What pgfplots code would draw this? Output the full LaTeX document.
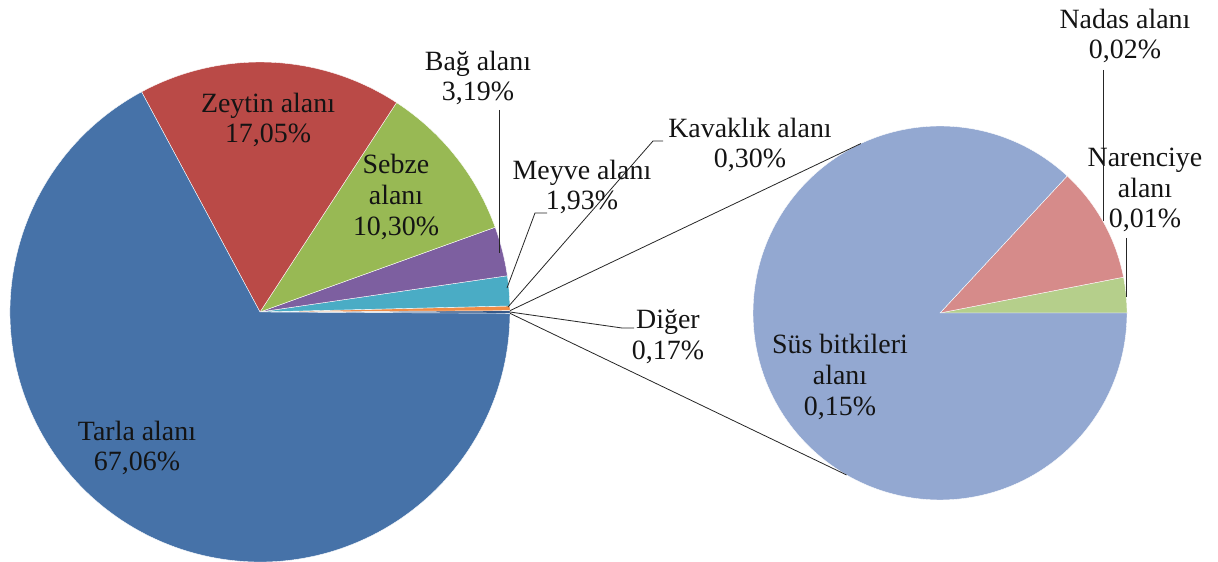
\documentclass[border=0pt]{standalone}
\usepackage{fontspec}
\setmainfont{Liberation Serif}
\newfontfamily\labfont{Liberation Serif}
\usepackage{pgfplots}
\usepackage{pgfplotstable}
\usetikzlibrary{calc}
\pgfplotsset{compat=1.18}

\definecolor{m0}{HTML}{35598A}% Diger
\definecolor{m1}{HTML}{F08C46}% Kavaklik
\definecolor{m2}{HTML}{4AACC5}% Meyve
\definecolor{m3}{HTML}{7D5FA0}% Bag
\definecolor{m4}{HTML}{98B954}% Sebze
\definecolor{m5}{HTML}{BA4A47}% Zeytin
\definecolor{m6}{HTML}{4672A8}% Tarla
\definecolor{s0}{HTML}{B5CF8B}% Narenciye
\definecolor{s1}{HTML}{D68B8A}% Nadas
\definecolor{s2}{HTML}{93A8D1}% Sus bitkileri
\definecolor{txt}{HTML}{141414}

% main pie, counter-clockwise from the "Diger" slice centred at 0 degrees
\pgfplotstableread{
name value
Diger 0.17
Kavaklik 0.30
Meyve 1.93
Bag 3.19
Sebze 10.30
Zeytin 17.05
Tarla 67.06
}\maintable
% second pie (breakdown of Diger), counter-clockwise from 0 degrees
\pgfplotstableread{
name value
Narenciye 0.0053
Nadas 0.0173
Sus 0.1500
}\subtable

\begin{document}
\begin{tikzpicture}
% angles of the main pie
\pgfplotstablegetelem{0}{value}\of\maintable
\pgfmathsetmacro\cur{-\pgfplotsretval*1.8}
\pgfplotsforeachungrouped \i in {0,...,6}{%
  \pgfplotstablegetelem{\i}{value}\of\maintable
  \pgfmathsetmacro\nxt{\cur+\pgfplotsretval*3.6}%
  \expandafter\xdef\csname ms\i\endcsname{\cur}%
  \expandafter\xdef\csname me\i\endcsname{\nxt}%
  \xdef\cur{\nxt}%
}
% angles of the second pie
\pgfmathsetmacro\subtot{0}
\pgfplotsforeachungrouped \i in {0,...,2}{%
  \pgfplotstablegetelem{\i}{value}\of\subtable
  \pgfmathsetmacro\subtot{\subtot+\pgfplotsretval}%
  \xdef\subtot{\subtot}%
}
\xdef\cur{0}
\pgfplotsforeachungrouped \i in {0,...,2}{%
  \pgfplotstablegetelem{\i}{value}\of\subtable
  \pgfmathsetmacro\nxt{\cur+\pgfplotsretval/\subtot*360}%
  \expandafter\xdef\csname ss\i\endcsname{\cur}%
  \expandafter\xdef\csname se\i\endcsname{\nxt}%
  \xdef\cur{\nxt}%
}
\begin{axis}[
  x=1bp, y=1bp, xmin=0, xmax=1218, ymin=0, ymax=562,
  hide axis, clip=false, scale only axis,
]
\coordinate (LL) at (axis cs:0,0);
\coordinate (UR) at (axis cs:1218,562);
% main pie
\pgfplotsinvokeforeach{0,...,6}{%
  \fill[fill=m#1, draw=white, line width=0.4bp] (axis cs:260,250) -- ++(\csname ms#1\endcsname:250bp)
    arc[start angle=\csname ms#1\endcsname, end angle=\csname me#1\endcsname, radius=250bp] -- cycle;
}
% second pie
\pgfplotsinvokeforeach{0,...,2}{%
  \fill[fill=s#1, draw=white, line width=0.4bp] (axis cs:940,249) -- ++(\csname ss#1\endcsname:187bp)
    arc[start angle=\csname ss#1\endcsname, end angle=\csname se#1\endcsname, radius=187bp] -- cycle;
}
% connector lines
\draw[line width=0.8bp, black!85] (axis cs:260,250) ++(\csname me0\endcsname:250bp) -- ($(axis cs:940,249)+(115:187bp)$);
\draw[line width=0.8bp, black!85] (axis cs:260,250) ++(\csname ms0\endcsname:250bp) -- ($(axis cs:940,249)+(240:187bp)$);
% leader lines
\draw[line width=0.8bp, black!85] (axis cs:499,452) -- (axis cs:499,309);
\draw[line width=0.8bp, black!85] (axis cs:507,274) -- (axis cs:535,349) -- (axis cs:547,349);
\draw[line width=0.8bp, black!85] (axis cs:508,255) -- (axis cs:653,421) -- (axis cs:663,421);
\draw[line width=0.8bp, black!85] (axis cs:510,250) -- (axis cs:622,234) -- (axis cs:634,234);
\draw[line width=0.8bp, black!85] (axis cs:1103,492) -- (axis cs:1103,341);
\draw[line width=0.8bp, black!85] (axis cs:1126,324) -- (axis cs:1126,265);
% labels
\tikzset{lab/.style={align=center, text=txt, inner sep=0pt, font=\labfont\fontsize{28}{31}\selectfont}}
\node[lab] at (axis cs:137,114) {Tarla alanı\\67,06\%};
\node[lab] at (axis cs:268,442) {Zeytin alanı\\17,05\%};
\node[lab] at (axis cs:396,365) {Sebze\\alanı\\10,30\%};
\node[lab] at (axis cs:478,484) {Bağ alanı\\3,19\%};
\node[lab] at (axis cs:582,375) {Meyve alanı\\1,93\%};
\node[lab] at (axis cs:750,417) {Kavaklık alanı\\0,30\%};
\node[lab] at (axis cs:668,225) {Diğer\\0,17\%};
\node[lab] at (axis cs:840,185) {Süs bitkileri\\alanı\\0,15\%};
\node[lab] at (axis cs:1125,526) {Nadas alanı\\0,02\%};
\node[lab] at (axis cs:1145,372) {Narenciye\\alanı\\0,01\%};
\end{axis}
\pgfresetboundingbox
\path (LL) rectangle (UR);
\end{tikzpicture}
\end{document}
